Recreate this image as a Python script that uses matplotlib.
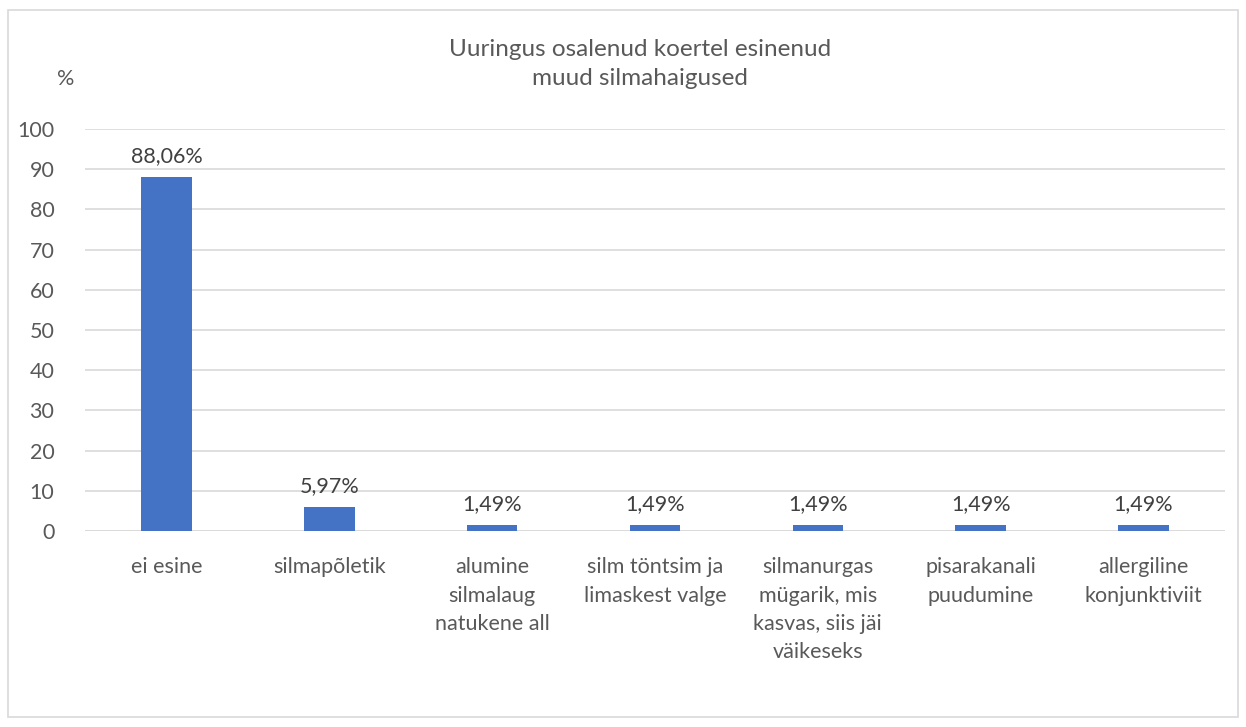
import matplotlib
matplotlib.use("Agg")
import matplotlib.pyplot as plt
from matplotlib.patches import Rectangle

categories = ["ei esine", "silmapõletik", "alumine\nsilmalaug\nnatukene all",
              "silm töntsim ja\nlimaskest valge",
              "silmanurgas\nmügarik, mis\nkasvas, siis jäi\nväikeseks",
              "pisarakanali\npuudumine", "allergiline\nkonjunktiviit"]
values = [88.06, 5.97, 1.49, 1.49, 1.49, 1.49, 1.49]
labels = ["88,06%", "5,97%", "1,49%", "1,49%", "1,49%", "1,49%", "1,49%"]
yticks = list(range(0, 101, 10))
title = "Uuringus osalenud koertel esinenud\nmuud silmahaigused"

plt.rcParams['font.family'] = ['Lato', 'DejaVu Sans']
txt = "#595959"
fs = 15.5

fig = plt.figure(figsize=(12.46, 7.27), dpi=100)
ax = fig.add_axes([85/1246, 1-531/727, (1225-85)/1246, (531-129)/727])

x = list(range(len(categories)))
ax.bar(x, values, width=0.31, color="#4472C4", zorder=3)
for xi, v, l in zip(x, values, labels):
    ax.text(xi, v + 2.8, l, ha="center", va="bottom", fontsize=fs, color="#404040")

ax.set_xlim(-0.5, len(categories) - 0.5)
ax.set_ylim(0, 100)
ax.set_yticks(yticks)
ax.set_xticks(x)
ax.set_xticklabels(categories, fontsize=fs, color=txt, linespacing=1.52, va="top")
ax.tick_params(axis="y", labelsize=fs, colors=txt, length=0, pad=22)
ax.tick_params(axis="x", length=0, pad=19)
ax.grid(axis="y", color="#D9D9D9", linewidth=1.2, zorder=0)
for s in ax.spines.values():
    s.set_visible(False)
ax.axhline(0, color="#D9D9D9", linewidth=1.2, zorder=2)

fig.text(640/1246, 1-64/727, title, ha="center", va="center", fontsize=17.5,
         color=txt, linespacing=1.5)
fig.text(66/1246, 1-79/727, "%", ha="center", va="center", fontsize=fs, color=txt)

fig.patches.append(Rectangle((8/1246, 10/727), (1238-8)/1246, (717-10)/727,
                             transform=fig.transFigure, fill=False,
                             edgecolor="#D9D9D9", linewidth=1.2))

fig.savefig("out.png", dpi=100)
